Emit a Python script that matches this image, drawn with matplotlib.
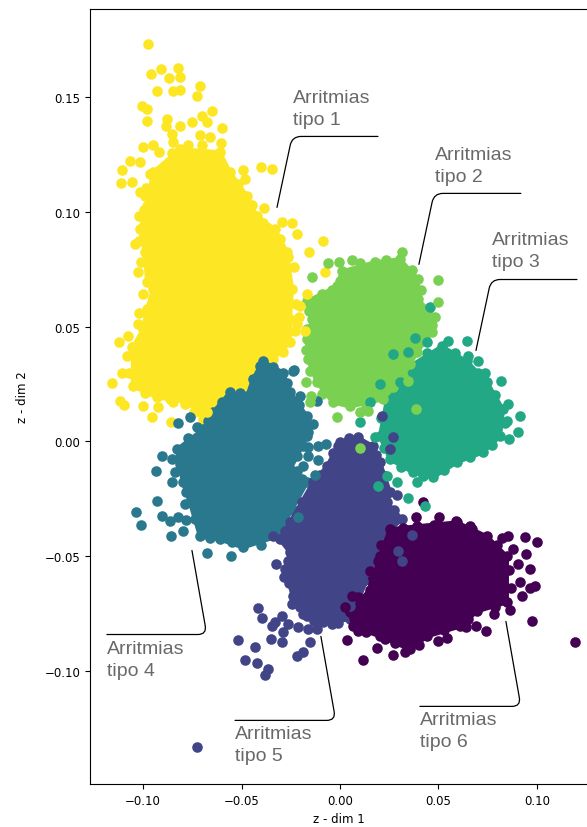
import matplotlib
matplotlib.use("Agg")
import matplotlib.pyplot as plt

# dense body of each cluster (outline) and the loose points around it
tipo1_body_x = [-0.0813, -0.0610, -0.0559, -0.0472, -0.0422, -0.0330, -0.0269, -0.0244, -0.0254, -0.0254, -0.0340, -0.0457, -0.0508, -0.0594, -0.0696, -0.0762, -0.0930, -0.1052, -0.1052, -0.1001, -0.0980, -0.0950, -0.0980, -0.0991, -0.1016, -0.0980, -0.0950]
tipo1_body_y = [0.1272, 0.1259, 0.1172, 0.1067, 0.0980, 0.0923, 0.0823, 0.0662, 0.0531, 0.0431, 0.0357, 0.0257, 0.0192, 0.0213, 0.0096, 0.0170, 0.0192, 0.0240, 0.0409, 0.0488, 0.0575, 0.0662, 0.0692, 0.0823, 0.0923, 0.1023, 0.1172]
tipo1_x = [-0.0975, -0.0960, -0.0909, -0.0823, -0.0869, -0.0813, -0.0711, -0.0726, -0.0930, -0.0848, -0.0813, -0.1006, -0.0980, -0.0980, -0.0650, -0.0879, -0.0752, -0.0701, -0.0884, -0.0813, -0.0599, -0.0676, -0.0853, -0.0711, -0.0660, -0.0848, -0.1001, -0.0950, -0.0919, -0.1067, -0.1016, -0.1107, -0.1113, -0.1057, -0.0401, -0.0345, -0.0493, -0.0483, -0.1016, -0.0386, -0.0996, -0.0295, -0.0244, -0.0218, -0.1021, -0.0086, -0.0157, -0.0264, -0.1026, -0.0076, -0.0168, -0.0203, -0.0208, -0.0218, -0.0178, -0.1026, -0.1123, -0.1057, -0.1082, -0.1107, -0.1158, -0.1118, -0.1097, -0.1001, -0.0925, -0.0955, -0.0864, -0.0859, -0.0787, -0.0676]
tipo1_y = [0.1729, 0.1598, 0.1620, 0.1624, 0.1581, 0.1585, 0.1546, 0.1502, 0.1524, 0.1524, 0.1529, 0.1459, 0.1446, 0.1394, 0.1437, 0.1402, 0.1389, 0.1415, 0.1372, 0.1372, 0.1363, 0.1389, 0.1337, 0.1333, 0.1324, 0.1302, 0.1280, 0.1289, 0.1259, 0.1219, 0.1215, 0.1180, 0.1124, 0.1128, 0.1193, 0.1185, 0.1180, 0.1141, 0.1084, 0.1015, 0.1006, 0.0954, 0.0949, 0.0901, 0.0871, 0.0871, 0.0823, 0.0801, 0.0736, 0.0736, 0.0640, 0.0588, 0.0540, 0.0510, 0.0479, 0.0510, 0.0431, 0.0409, 0.0370, 0.0296, 0.0253, 0.0174, 0.0157, 0.0152, 0.0148, 0.0105, 0.0183, 0.0083, 0.0161, 0.0126]
tipo1_borde_x = [-0.0855, -0.0895, -0.0965, -0.0985, -0.0935, -0.0605, -0.0700, -0.0770, -0.0520, -0.0445, -0.0390, -0.0305, -0.0235, -0.0225, -0.0230, -0.0290, -0.0400, -0.0540, -0.0640, -0.0740, -0.0850, -0.0990, -0.1070, -0.1075, -0.1020, -0.1000, -0.1010, -0.1040, -0.1020, -0.0990]
tipo1_borde_y = [0.1255, 0.1195, 0.1165, 0.1105, 0.1120, 0.1300, 0.1290, 0.1290, 0.1120, 0.1030, 0.0950, 0.0880, 0.0760, 0.0600, 0.0480, 0.0390, 0.0300, 0.0180, 0.0150, 0.0130, 0.0170, 0.0210, 0.0300, 0.0460, 0.0560, 0.0640, 0.0780, 0.0860, 0.0980, 0.1070]

tipo2_body_x = [0.0178, 0.0305, 0.0396, 0.0396, 0.0483, 0.0467, 0.0391, 0.0320, 0.0218, 0.0051, -0.0036, -0.0117, -0.0163, -0.0168, -0.0142, -0.0168, -0.0015, 0.0010]
tipo2_body_y = [0.0780, 0.0793, 0.0706, 0.0618, 0.0540, 0.0475, 0.0388, 0.0283, 0.0183, 0.0152, 0.0170, 0.0257, 0.0357, 0.0444, 0.0531, 0.0610, 0.0675, 0.0740]
tipo2_x = [0.0315, 0.0498, 0.0498, -0.0061, -0.0005, 0.0061, -0.0142, -0.0127, -0.0015, 0.0102, 0.0142, 0.0345, 0.0386, 0.0102, -0.0173, -0.0147, -0.0152]
tipo2_y = [0.0823, 0.0701, 0.0605, 0.0775, 0.0780, 0.0788, 0.0714, 0.0562, 0.0105, 0.0126, 0.0131, 0.0261, 0.0139, -0.0030, 0.0257, 0.0196, 0.0170]
tipo2_borde_x = [0.0100, 0.0235, 0.0365, 0.0410, 0.0450, 0.0470, 0.0355, 0.0270, 0.0130, -0.0090, -0.0150, -0.0175, -0.0165, -0.0155, -0.0090, -0.0040, 0.0000]
tipo2_borde_y = [0.0775, 0.0790, 0.0745, 0.0660, 0.0580, 0.0505, 0.0335, 0.0235, 0.0150, 0.0205, 0.0305, 0.0400, 0.0490, 0.0570, 0.0640, 0.0660, 0.0700]

tipo3_body_x = [0.0518, 0.0645, 0.0747, 0.0828, 0.0813, 0.0726, 0.0594, 0.0472, 0.0371, 0.0254, 0.0203, 0.0239, 0.0356]
tipo3_body_y = [0.0414, 0.0348, 0.0257, 0.0139, 0.0022, -0.0048, -0.0091, -0.0157, -0.0135, -0.0078, 0.0022, 0.0183, 0.0327]
tipo3_x = [0.0549, 0.0645, 0.0650, 0.0701, 0.0737, 0.0818, 0.0853, 0.0914, 0.0848, 0.0904, 0.0859, 0.0193, 0.0290, 0.0391, 0.0345, 0.0239, 0.0178, 0.0102, 0.0457, 0.0381, 0.0442, 0.0269, 0.0305, 0.0152, 0.0203, 0.0345, 0.0432]
tipo3_y = [0.0436, 0.0436, 0.0370, 0.0348, 0.0300, 0.0261, 0.0161, 0.0109, 0.0087, 0.0039, 0.0009, -0.0196, -0.0179, -0.0179, -0.0248, -0.0152, 0.0017, 0.0083, 0.0584, 0.0449, 0.0431, 0.0379, 0.0257, 0.0170, 0.0248, 0.0388, -0.0283]
tipo3_borde_x = [0.0585, 0.0700, 0.0790, 0.0840, 0.0770, 0.0660, 0.0530, 0.0420, 0.0310, 0.0225, 0.0210, 0.0295, 0.0440]
tipo3_borde_y = [0.0385, 0.0300, 0.0200, 0.0080, -0.0015, -0.0070, -0.0125, -0.0150, -0.0110, -0.0030, 0.0100, 0.0260, 0.0385]

tipo4_body_x = [-0.0391, -0.0290, -0.0254, -0.0168, -0.0168, -0.0218, -0.0254, -0.0168, -0.0320, -0.0493, -0.0610, -0.0711, -0.0762, -0.0798, -0.0828, -0.0696, -0.0645, -0.0559, -0.0472, -0.0442, -0.0406]
tipo4_body_y = [0.0348, 0.0300, 0.0213, 0.0109, 0.0022, -0.0065, -0.0122, -0.0179, -0.0414, -0.0462, -0.0427, -0.0414, -0.0266, -0.0179, -0.0035, 0.0052, 0.0126, 0.0213, 0.0196, 0.0270, 0.0327]
tipo4_x = [-0.0234, -0.0203, -0.0117, -0.0762, -0.0823, -0.0726, -0.0904, -0.0853, -0.0935, -0.0838, -0.0853, -0.0930, -0.1036, -0.1011, -0.0904, -0.0864, -0.0823, -0.0782, -0.0787, -0.0859, -0.0798, -0.0137, -0.0163, -0.0071, -0.0112, -0.0163, -0.0163, -0.0112, -0.0188, -0.0218, -0.0127, -0.0676, -0.0554, -0.0239, -0.0213]
tipo4_y = [0.0309, 0.0196, 0.0174, 0.0105, 0.0078, 0.0061, -0.0065, -0.0078, -0.0131, -0.0135, -0.0179, -0.0261, -0.0309, -0.0366, -0.0327, -0.0348, -0.0331, -0.0344, -0.0274, -0.0414, -0.0392, 0.0074, 0.0039, -0.0013, -0.0022, -0.0026, -0.0065, -0.0083, -0.0109, -0.0131, -0.0148, -0.0488, -0.0501, 0.0305, -0.0331]
tipo4_borde_x = [-0.0340, -0.0270, -0.0210, -0.0165, -0.0190, -0.0195, -0.0240, -0.0280, -0.0400, -0.0550, -0.0660, -0.0735, -0.0780, -0.0815, -0.0770, -0.0670, -0.0600, -0.0510]
tipo4_borde_y = [0.0325, 0.0255, 0.0160, 0.0070, -0.0020, -0.0165, -0.0300, -0.0370, -0.0450, -0.0440, -0.0420, -0.0340, -0.0220, -0.0100, 0.0015, 0.0090, 0.0170, 0.0210]

tipo5_body_x = [0.0091, 0.0000, -0.0066, -0.0137, -0.0254, -0.0305, -0.0254, -0.0279, -0.0239, -0.0168, -0.0086, 0.0051, 0.0137, 0.0254, 0.0315, 0.0239, 0.0254, 0.0203, 0.0168]
tipo5_body_y = [0.0017, -0.0004, -0.0109, -0.0179, -0.0353, -0.0427, -0.0483, -0.0557, -0.0675, -0.0762, -0.0788, -0.0775, -0.0601, -0.0383, -0.0340, -0.0266, -0.0222, -0.0091, -0.0022]
tipo5_x = [-0.0325, -0.0284, -0.0244, -0.0188, -0.0417, -0.0396, -0.0295, -0.0330, -0.0264, -0.0290, -0.0345, -0.0213, -0.0163, -0.0117, -0.0041, -0.0518, -0.0351, -0.0295, -0.0152, -0.0432, -0.0483, -0.0422, -0.0366, -0.0381, -0.0218, -0.0188, 0.0290, -0.0726, 0.0366, 0.0295, 0.0315, 0.0117, 0.0051, 0.0213, 0.0041, 0.0163, 0.0254, 0.0269, -0.0010, -0.0340]
tipo5_y = [-0.0536, -0.0592, -0.0710, -0.0753, -0.0727, -0.0771, -0.0762, -0.0788, -0.0797, -0.0832, -0.0806, -0.0810, -0.0819, -0.0819, -0.0797, -0.0867, -0.0862, -0.0875, -0.0875, -0.0897, -0.0954, -0.0967, -0.0993, -0.1019, -0.0936, -0.0915, -0.0235, -0.1333, -0.0409, -0.0479, -0.0523, -0.0610, -0.0719, 0.0109, 0.0000, -0.0026, -0.0035, 0.0017, -0.0022, -0.0414]
tipo5_borde_x = [0.0045, -0.0035, -0.0100, -0.0195, -0.0280, -0.0265, -0.0260, -0.0205, -0.0130, -0.0010, 0.0130, 0.0185, 0.0230, 0.0275]
tipo5_borde_y = [0.0015, -0.0050, -0.0145, -0.0265, -0.0390, -0.0520, -0.0615, -0.0720, -0.0780, -0.0790, -0.0020, -0.0060, -0.0150, -0.0300]

tipo6_body_x = [0.0254, 0.0391, 0.0594, 0.0747, 0.0848, 0.0848, 0.0696, 0.0610, 0.0442, 0.0356, 0.0203, 0.0066, 0.0051, 0.0152, 0.0203]
tipo6_body_y = [-0.0383, -0.0370, -0.0353, -0.0414, -0.0501, -0.0701, -0.0740, -0.0806, -0.0849, -0.0906, -0.0849, -0.0806, -0.0745, -0.0645, -0.0501]
tipo6_x = [0.0386, 0.0503, 0.0589, 0.0671, 0.0422, 0.0853, 0.0940, 0.1001, 0.0823, 0.0879, 0.0945, 0.0904, 0.0965, 0.0914, 0.0991, 0.0965, 0.0925, 0.0864, 0.0782, 0.0975, 0.0742, 0.0691, 0.0640, 0.0544, 0.0498, 0.0229, 0.0188, 0.0036, 0.0117, 0.0269, 0.0330, 0.1194, 0.0091, 0.0091, 0.0061, 0.0025, 0.0193, 0.0152]
tipo6_y = [-0.0331, -0.0331, -0.0348, -0.0383, -0.0266, -0.0414, -0.0418, -0.0436, -0.0422, -0.0470, -0.0492, -0.0536, -0.0557, -0.0614, -0.0631, -0.0640, -0.0675, -0.0736, -0.0753, -0.0780, -0.0827, -0.0806, -0.0810, -0.0858, -0.0871, -0.0862, -0.0901, -0.0867, -0.0954, -0.0932, -0.0915, -0.0875, -0.0827, -0.0679, -0.0675, -0.0723, -0.0523, -0.0566]
tipo6_borde_x = [0.0320, 0.0480, 0.0660, 0.0800, 0.0860, 0.0870, 0.0790, 0.0650, 0.0530, 0.0400, 0.0280, 0.0130, 0.0110, 0.0160, 0.0210]
tipo6_borde_y = [-0.0375, -0.0365, -0.0370, -0.0450, -0.0560, -0.0640, -0.0720, -0.0775, -0.0820, -0.0885, -0.0880, -0.0830, -0.0700, -0.0610, -0.0450]

x_ticks = [-0.10, -0.05, 0.00, 0.05, 0.10]
y_ticks = [-0.10, -0.05, 0.00, 0.05, 0.10, 0.15]

# drawing order as it looks in the overlaps
clusters = [
    (tipo1_body_x, tipo1_body_y, tipo1_borde_x, tipo1_borde_y, tipo1_x, tipo1_y, "#fde725"),
    (tipo4_body_x, tipo4_body_y, tipo4_borde_x, tipo4_borde_y, tipo4_x, tipo4_y, "#2a788e"),
    (tipo5_body_x, tipo5_body_y, tipo5_borde_x, tipo5_borde_y, tipo5_x, tipo5_y, "#414487"),
    (tipo6_body_x, tipo6_body_y, tipo6_borde_x, tipo6_borde_y, tipo6_x, tipo6_y, "#440154"),
    (tipo3_body_x, tipo3_body_y, tipo3_borde_x, tipo3_borde_y, tipo3_x, tipo3_y, "#22a884"),
    (tipo2_body_x, tipo2_body_y, tipo2_borde_x, tipo2_borde_y, tipo2_x, tipo2_y, "#7ad151"),
]

# label text, text position, line start, line end, angle of last line stretch
etiquetas = [
    ("Arritmias\ntipo 1", (-0.0239, 0.1535), (0.0193, 0.1328), (-0.0320, 0.1019), 78),
    ("Arritmias\ntipo 2", (0.0483, 0.1287), (0.0919, 0.1080), (0.0401, 0.0771), 78),
    ("Arritmias\ntipo 3", (0.0772, 0.0917), (0.1204, 0.0705), (0.0691, 0.0396), 78),
    ("Arritmias\ntipo 4", (-0.1184, -0.0864), (-0.1184, -0.0841), (-0.0752, -0.0475), 100),
    ("Arritmias\ntipo 5", (-0.0533, -0.1234), (-0.0533, -0.1215), (-0.0097, -0.0849), 100),
    ("Arritmias\ntipo 6", (0.0406, -0.1173), (0.0406, -0.1154), (0.0843, -0.0784), 100),
]

fig = plt.figure(figsize=(5.87, 8.28), dpi=100)
ax = fig.add_axes([90 / 587, 43 / 828, 497 / 587, 775 / 828])

for body_x, body_y, borde_x, borde_y, sx, sy, color in clusters:
    ax.fill(body_x, body_y, color=color, lw=3, joinstyle="round", zorder=2)
    ax.scatter(body_x + borde_x, body_y + borde_y, s=58, color=color, lw=0, zorder=2)
for body_x, body_y, borde_x, borde_y, sx, sy, color in clusters:
    ax.scatter(sx, sy, s=58, color=color, lw=0, zorder=3)

for texto, pos, inicio, fin, ang in etiquetas:
    ax.annotate(texto, xy=pos, va="top", ha="left", fontsize=14, color="dimgray",
                family="Liberation Sans", linespacing=1.4, zorder=5)
    ax.annotate("", xy=fin, xytext=inicio, zorder=4,
                arrowprops=dict(arrowstyle="-", color="black", lw=0.9, shrinkA=0, shrinkB=0,
                                connectionstyle=f"angle,angleA=0,angleB={ang},rad=9"))

ax.set_xlim(-0.127, 0.1255)
ax.set_ylim(-0.1492, 0.1883)
ax.set_xticks(x_ticks)
ax.set_yticks(y_ticks)
ax.tick_params(labelsize=8.5)
ax.spines["right"].set_visible(False)
ax.set_xlabel("z - dim 1", fontsize=8.5, labelpad=4)
ax.set_ylabel("z - dim 2", fontsize=8.5, labelpad=11)

fig.savefig("out.png", dpi=100)
